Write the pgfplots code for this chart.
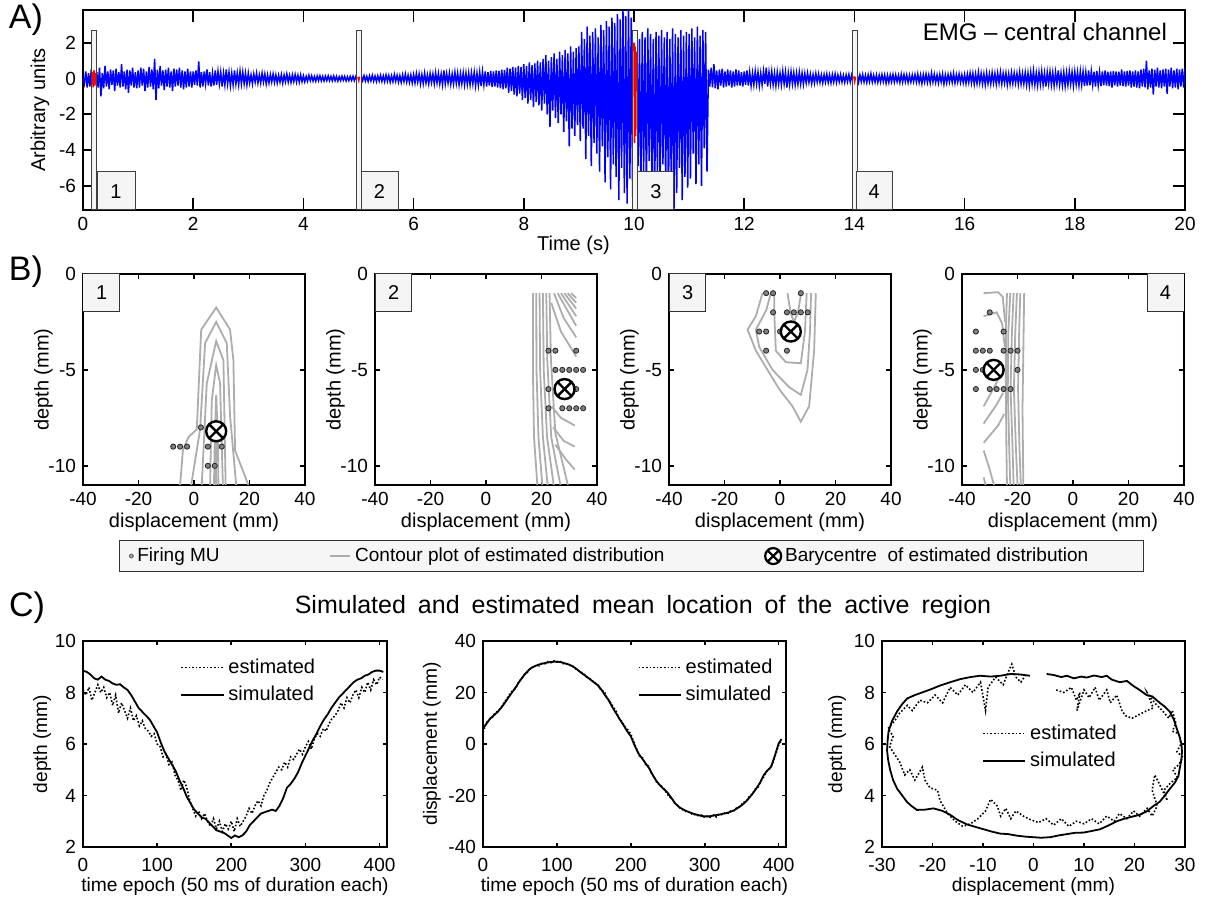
\documentclass[border=0pt]{standalone}
\usepackage{pgfplots}
\pgfplotsset{compat=1.18}
\usepackage{fontspec}
\setmainfont{Liberation Sans}
\usetikzlibrary{plotmarks}

\pgfplotsset{
  matlab/.style={
    scale only axis, anchor=south west,
    axis line style={line width=0.9pt},
    tick align=inside,
    every tick/.style={black, line width=0.8pt},
    /pgf/number format/assume math mode=true,
    tick label style={font=\fontsize{9.5}{11}\selectfont},
    label style={font=\fontsize{10}{12}\selectfont},
  },
  bpanel/.style={matlab, width=111pt, height=105.5pt,
    xmin=-40, xmax=40, ymin=-11, ymax=0,
    xtick={-40,-20,0,20,40}, ytick={-10,-5,0},
    major tick length=2.5pt,
    xlabel={displacement (mm)}, ylabel={depth (mm)},
    xlabel style={yshift=3pt}, ylabel style={yshift=-9pt}},
  cpanel/.style={matlab, height=103pt, major tick length=2pt,
    label style={font=\fontsize{9.6}{12}\selectfont},
    xticklabel style={yshift=-2pt},
    xlabel style={yshift=4pt}, ylabel style={yshift=-3pt},
    legend cell align=left,
    legend image code/.code={\draw[##1] (0pt,0pt) -- (21pt,0pt);},
    legend style={draw=none, fill=none, font=\fontsize{10}{12}\selectfont, row sep=1pt}},
  shortline/.style={legend image code/.code={\draw[##1] (0pt,0pt) -- (10pt,0pt);}},
  cont/.style={color=black!32, line width=0.9pt, forget plot},
  mu/.style={only marks, mark=*, mark size=1.3pt, mark options={fill=black!50, draw=black!85, line width=0.4pt}, forget plot},
  bary/.style={only marks, mark=otimes*, mark size=5pt, mark options={fill=white, draw=black, line width=1.2pt}, forget plot},
  est/.style={black, densely dotted, line width=0.8pt},
  sim/.style={black, solid, line width=0.9pt},
}

\begin{document}
\begin{tikzpicture}
\path[use as bounding box] (0,0) rectangle (602.5pt,452pt);

% ---------------- Panel A ----------------
\begin{axis}[matlab, at={(41.5pt,347pt)}, width=551pt, height=100pt,
  xmin=0, xmax=20, ymin=-7.35, ymax=3.83,
  xtick={0,2,...,20}, ytick={-6,-4,-2,0,2},
  major tick length=6pt,
  xlabel={Time (s)}, ylabel={Arbitrary units},
  xlabel style={at={(axis description cs:0.445,0)}, anchor=north, yshift=-9.5pt}, ylabel style={yshift=-2pt}]
\addplot[blue, line width=0.75pt] table[row sep=\\, x expr=\coordindex*0.025, y=y] {
y\\
0.0\\ -0.3\\ 0.4\\ -0.5\\ 0.3\\ -0.45\\ 0.5\\ -0.35\\ 0.45\\ -0.6\\ 0.35\\ -0.5\\ 0.6\\ -1.0\\ 0.3\\ -0.55\\ 0.7\\ -0.45\\ 0.4\\ -0.6\\ 0.5\\ -0.35\\ 0.45\\ -0.7\\ 0.55\\ -0.4\\ 0.35\\ -0.5\\ 0.8\\ -0.45\\ 0.4\\ -0.6\\ 0.5\\ -0.8\\ 0.45\\ -0.4\\ 0.6\\ -0.5\\ 0.35\\ -0.55\\
0.45\\ -0.5\\ 0.6\\ -0.4\\ 0.55\\ -0.7\\ 0.4\\ -0.5\\ 0.65\\ -0.45\\ 0.5\\ -0.6\\ 1.1\\ -1.2\\ 0.5\\ -0.55\\ 0.7\\ -0.4\\ 0.45\\ -0.65\\ 0.5\\ -0.45\\ 0.6\\ -0.5\\ 0.4\\ -0.7\\ 0.55\\ -0.45\\ 0.5\\ -0.4\\ 0.6\\ -0.5\\ 0.45\\ -0.6\\ 0.4\\ -0.5\\ 0.55\\ -0.45\\ 0.4\\ -0.5\\
0.4\\ -0.35\\ 0.45\\ -0.4\\ 0.95\\ -0.5\\ 0.35\\ -0.45\\ 0.4\\ -0.3\\ 0.5\\ -0.4\\ 0.35\\ -0.45\\ 0.3\\ -0.4\\ 0.45\\ -0.35\\ 0.4\\ -0.3\\ 0.35\\ -0.45\\ 0.3\\ -0.35\\ 0.5\\ -0.3\\ 0.35\\ -0.4\\ 0.3\\ -0.35\\ 0.45\\ -0.3\\ 0.3\\ -0.35\\ 0.4\\ -0.3\\ 0.35\\ -0.3\\ 0.3\\ -0.35\\
0.3\\ -0.25\\ 0.2\\ -0.3\\ 0.25\\ -0.2\\ 0.3\\ -0.25\\ 0.2\\ -0.25\\ 0.3\\ -0.2\\ 0.25\\ -0.3\\ 0.2\\ -0.25\\ 0.22\\ -0.2\\ 0.25\\ -0.22\\ 0.2\\ -0.25\\ 0.18\\ -0.2\\ 0.22\\ -0.25\\ 0.2\\ -0.18\\ 0.25\\ -0.2\\ 0.18\\ -0.22\\ 0.2\\ -0.18\\ 0.22\\ -0.2\\ 0.18\\ -0.2\\ 0.2\\ -0.18\\
0.15\\ -0.18\\ 0.12\\ -0.15\\ 0.18\\ -0.12\\ 0.15\\ -0.14\\ 0.12\\ -0.15\\ 0.14\\ -0.12\\ 0.15\\ -0.13\\ 0.12\\ -0.14\\ 0.13\\ -0.12\\ 0.15\\ -0.12\\ 0.12\\ -0.13\\ 0.14\\ -0.12\\ 0.12\\ -0.14\\ 0.1\\ -0.12\\ 0.13\\ -0.1\\ 0.12\\ -0.13\\ 0.1\\ -0.12\\ 0.12\\ -0.1\\ 0.13\\ -0.12\\ 0.1\\ -0.12\\
0.12\\ -0.15\\ 0.14\\ -0.12\\ 0.16\\ -0.14\\ 0.12\\ -0.16\\ 0.15\\ -0.13\\ 0.18\\ -0.15\\ 0.14\\ -0.17\\ 0.15\\ -0.14\\ 0.18\\ -0.16\\ 0.15\\ -0.18\\ 0.2\\ -0.15\\ 0.17\\ -0.2\\ 0.15\\ -0.18\\ 0.22\\ -0.16\\ 0.18\\ -0.2\\ 0.16\\ -0.22\\ 0.2\\ -0.18\\ 0.25\\ -0.2\\ 0.18\\ -0.22\\ 0.2\\ -0.25\\
0.22\\ -0.25\\ 0.28\\ -0.2\\ 0.25\\ -0.3\\ 0.22\\ -0.28\\ 0.3\\ -0.25\\ 0.2\\ -0.3\\ 0.28\\ -0.22\\ 0.25\\ -0.3\\ 0.32\\ -0.25\\ 0.28\\ -0.3\\ 0.25\\ -0.35\\ 0.45\\ -0.3\\ 0.28\\ -0.25\\ 0.3\\ -0.32\\ 0.25\\ -0.3\\ 0.35\\ -0.28\\ 0.3\\ -0.35\\ 0.28\\ -0.3\\ 0.32\\ -0.35\\ 0.3\\ -0.32\\
0.3\\ -0.35\\ 0.32\\ -0.3\\ 0.35\\ -0.4\\ 0.3\\ -0.38\\ 0.35\\ -0.42\\ 0.38\\ -0.35\\ 0.4\\ -0.45\\ 0.35\\ -0.4\\ 0.42\\ -0.48\\ 0.4\\ -0.45\\ 0.45\\ -0.5\\ 0.42\\ -0.55\\ 0.5\\ -0.6\\ 0.48\\ -0.55\\ 0.6\\ -0.8\\ 0.55\\ -0.7\\ 0.65\\ -0.9\\ 0.6\\ -1.0\\ 0.7\\ -0.85\\ 0.65\\ -1.2\\
0.8\\ -1.1\\ 0.7\\ -1.4\\ 0.9\\ -1.2\\ 0.75\\ -1.6\\ 0.85\\ -1.3\\ 1.0\\ -1.5\\ 0.9\\ -1.8\\ 1.1\\ -1.4\\ 1.3\\ -2.0\\ 1.0\\ -2.7\\ 1.2\\ -1.8\\ 1.4\\ -2.2\\ 1.1\\ -2.5\\ 1.5\\ -2.0\\ 1.3\\ -3.0\\ 1.6\\ -2.4\\ 1.4\\ -3.8\\ 1.8\\ -2.8\\ 1.5\\ -3.2\\ 1.7\\ -2.6\\
1.8\\ -3.5\\ 2.6\\ -2.8\\ 2.2\\ -4.5\\ 2.9\\ -3.2\\ 2.4\\ -4.9\\ 2.6\\ -3.6\\ 2.8\\ -4.2\\ 2.3\\ -5.2\\ 3.0\\ -3.8\\ 2.7\\ -5.8\\ 3.2\\ -4.4\\ 2.9\\ -6.2\\ 3.4\\ -4.8\\ 3.1\\ -5.5\\ 3.6\\ -6.8\\ 3.3\\ -5.0\\ 3.8\\ -6.4\\ 3.5\\ -7.0\\ 4.1\\ -5.6\\ 3.4\\ -6.6\\
2.4\\ -5.8\\ 2.7\\ -4.9\\ 2.2\\ -6.2\\ 2.6\\ -5.2\\ 2.3\\ -6.6\\ 2.8\\ -4.6\\ 2.5\\ -5.9\\ 2.2\\ -6.9\\ 2.6\\ -5.4\\ 2.4\\ -6.3\\ 2.7\\ -4.8\\ 2.3\\ -6.0\\ 2.6\\ -7.0\\ 2.2\\ -5.6\\ 2.8\\ -7.6\\ 2.5\\ -6.4\\ 2.3\\ -5.0\\ 2.7\\ -6.8\\ 2.4\\ -5.5\\ 2.6\\ -6.1\\
2.5\\ -5.6\\ 2.8\\ -4.2\\ 2.3\\ -5.9\\ 2.9\\ -4.8\\ 2.4\\ -6.0\\ 2.7\\ -3.9\\ 2.6\\ -5.2\\ 0.5\\ -0.45\\ 0.6\\ -0.5\\ 0.8\\ -0.55\\ 0.45\\ -0.6\\ 0.5\\ -0.4\\ 0.55\\ -0.5\\ 0.4\\ -0.45\\ 0.5\\ -0.4\\ 0.45\\ -0.5\\ 0.4\\ -0.45\\ 0.5\\ -0.4\\ 0.45\\ -0.4\\ 0.35\\ -0.45\\ 0.4\\ -0.35\\ 0.45\\ -0.4\\
0.35\\ -0.4\\ 0.3\\ -0.35\\ 0.4\\ -0.3\\ 0.35\\ -0.4\\ 0.3\\ -0.35\\ 0.4\\ -0.3\\ 0.6\\ -0.45\\ 0.35\\ -0.3\\ 0.4\\ -0.35\\ 0.3\\ -0.4\\ 0.35\\ -0.3\\ 0.3\\ -0.35\\ 0.4\\ -0.3\\ 0.35\\ -0.5\\ 0.3\\ -0.35\\ 0.38\\ -0.3\\ 0.32\\ -0.35\\ 0.3\\ -0.32\\ 0.35\\ -0.3\\ 0.3\\ -0.32\\
0.28\\ -0.25\\ 0.3\\ -0.22\\ 0.25\\ -0.28\\ 0.22\\ -0.25\\ 0.28\\ -0.2\\ 0.25\\ -0.22\\ 0.2\\ -0.25\\ 0.22\\ -0.2\\ 0.25\\ -0.22\\ 0.2\\ -0.24\\ 0.22\\ -0.2\\ 0.25\\ -0.22\\ 0.2\\ -0.18\\ 0.22\\ -0.2\\ 0.18\\ -0.22\\ 0.2\\ -0.18\\ 0.22\\ -0.2\\ 0.18\\ -0.2\\ 0.2\\ -0.18\\ 0.22\\ -0.2\\
0.2\\ -0.18\\ 0.22\\ -0.2\\ 0.18\\ -0.22\\ 0.2\\ -0.18\\ 0.26\\ -0.2\\ 0.18\\ -0.2\\ 0.2\\ -0.22\\ 0.18\\ -0.2\\ 0.22\\ -0.18\\ 0.2\\ -0.26\\ 0.18\\ -0.22\\ 0.2\\ -0.18\\ 0.22\\ -0.2\\ 0.2\\ -0.18\\ 0.18\\ -0.22\\ 0.24\\ -0.2\\ 0.22\\ -0.18\\ 0.2\\ -0.22\\ 0.18\\ -0.2\\ 0.2\\ -0.18\\
0.22\\ -0.2\\ 0.25\\ -0.22\\ 0.2\\ -0.28\\ 0.22\\ -0.2\\ 0.25\\ -0.22\\ 0.2\\ -0.24\\ 0.3\\ -0.2\\ 0.24\\ -0.22\\ 0.2\\ -0.25\\ 0.22\\ -0.2\\ 0.25\\ -0.3\\ 0.2\\ -0.24\\ 0.22\\ -0.2\\ 0.24\\ -0.22\\ 0.28\\ -0.25\\ 0.22\\ -0.2\\ 0.25\\ -0.22\\ 0.2\\ -0.24\\ 0.22\\ -0.28\\ 0.24\\ -0.22\\
0.3\\ -0.25\\ 0.28\\ -0.32\\ 0.25\\ -0.28\\ 0.35\\ -0.25\\ 0.28\\ -0.3\\ 0.25\\ -0.35\\ 0.3\\ -0.28\\ 0.25\\ -0.3\\ 0.32\\ -0.25\\ 0.28\\ -0.32\\ 0.3\\ -0.25\\ 0.35\\ -0.3\\ 0.28\\ -0.25\\ 0.3\\ -0.35\\ 0.25\\ -0.3\\ 0.32\\ -0.28\\ 0.3\\ -0.25\\ 0.28\\ -0.32\\ 0.35\\ -0.3\\ 0.28\\ -0.3\\
0.32\\ -0.35\\ 0.3\\ -0.4\\ 0.35\\ -0.3\\ 0.42\\ -0.35\\ 0.3\\ -0.38\\ 0.35\\ -0.32\\ 0.4\\ -0.35\\ 0.3\\ -0.45\\ 0.35\\ -0.3\\ 0.38\\ -0.35\\ 0.32\\ -0.4\\ 0.35\\ -0.3\\ 0.45\\ -0.35\\ 0.3\\ -0.38\\ 0.35\\ -0.42\\ 0.32\\ -0.35\\ 0.4\\ -0.3\\ 0.35\\ -0.4\\ 0.38\\ -0.32\\ 0.35\\ -0.38\\
0.4\\ -0.35\\ 0.38\\ -0.42\\ 0.35\\ -0.4\\ 0.45\\ -0.38\\ 0.4\\ -0.35\\ 0.38\\ -0.45\\ 0.42\\ -0.38\\ 0.35\\ -0.42\\ 0.4\\ -0.38\\ 0.45\\ -0.4\\ 0.38\\ -0.42\\ 0.4\\ -0.5\\ 0.42\\ -0.38\\ 0.4\\ -0.45\\ 0.38\\ -0.4\\ 0.5\\ -0.42\\ 0.4\\ -0.45\\ 0.42\\ -0.4\\ 0.45\\ -0.5\\ 0.4\\ -0.45\\
0.45\\ -0.5\\ 0.4\\ -0.55\\ 0.5\\ -0.45\\ 0.55\\ -0.5\\ 1.0\\ -0.6\\ 0.45\\ -0.5\\ 0.55\\ -0.9\\ 0.5\\ -0.45\\ 0.6\\ -0.5\\ 0.45\\ -0.55\\ 0.5\\ -0.45\\ 0.55\\ -0.85\\ 0.5\\ -0.45\\ 0.6\\ -0.55\\ 0.45\\ -0.5\\ 0.55\\ -0.6\\ 0.5\\ -0.45\\ 0.55\\ -0.5\\ 0.6\\ -0.55\\ 0.5\\ -0.6\\
1.0\\
};
% analysis windows
\draw[fill=gray!8, draw=black!75, line width=0.5pt] (axis cs:0.16,-7.35) rectangle (axis cs:0.25,2.7);
\draw[fill=gray!8, draw=black!75, line width=0.5pt] (axis cs:4.96,-7.35) rectangle (axis cs:5.05,2.7);
\draw[fill=gray!8, draw=black!75, line width=0.5pt] (axis cs:9.97,-7.35) rectangle (axis cs:10.06,2.7);
\draw[fill=gray!8, draw=black!75, line width=0.5pt] (axis cs:13.96,-7.35) rectangle (axis cs:14.05,2.7);
\addplot[red, line width=0.8pt] coordinates {(0.17,0.35)(0.185,-0.5)(0.2,0.45)(0.215,-0.4)(0.23,0.3)};
\addplot[red, line width=0.8pt] coordinates {(4.99,0.08)(5.005,-0.1)(5.02,0.1)};
\addplot[red, line width=0.8pt] coordinates {(10.0,2.0)(10.01,-3.6)(10.02,1.8)(10.03,-3.2)(10.04,1.5)};
\addplot[red, line width=0.8pt] coordinates {(13.99,0.12)(14.005,-0.15)(14.02,0.1)};
\draw[fill=gray!8, draw=black!75, line width=0.5pt] (axis cs:0.27,-7.35) rectangle (axis cs:0.96,-5.2);
\draw[fill=gray!8, draw=black!75, line width=0.5pt] (axis cs:5.05,-7.35) rectangle (axis cs:5.72,-5.2);
\draw[fill=gray!8, draw=black!75, line width=0.5pt] (axis cs:10.07,-7.35) rectangle (axis cs:10.72,-5.2);
\draw[fill=gray!8, draw=black!75, line width=0.5pt] (axis cs:14.03,-7.35) rectangle (axis cs:14.7,-5.2);
\node[font=\fontsize{10}{12}\selectfont] at (axis cs:0.6,-6.3) {1};
\node[font=\fontsize{10}{12}\selectfont] at (axis cs:5.38,-6.3) {2};
\node[font=\fontsize{10}{12}\selectfont] at (axis cs:10.4,-6.3) {3};
\node[font=\fontsize{10}{12}\selectfont] at (axis cs:14.36,-6.3) {4};
\node[anchor=east, font=\fontsize{12}{14}\selectfont] at (rel axis cs:0.99,0.89) {EMG -- central channel};
\end{axis}

% ---------------- Panel B1 ----------------
\begin{axis}[bpanel, at={(41.5pt,209.5pt)},
  legend columns=3,
  legend style={at={(0.162,-0.262)}, anchor=north west, draw=black!80, fill=gray!7,
    font=\fontsize{9.5}{11}\selectfont, inner xsep=5pt, inner ysep=1.5pt}]
\addlegendimage{only marks, mark=*, mark size=1pt, mark options={fill=black!40, draw=black!60}}
\addlegendentry{\makebox[94pt][l]{Firing MU}}
\addlegendimage{black!32, line width=0.9pt, shortline}
\addlegendentry{\makebox[203pt][l]{Contour plot of estimated distribution}}
\addlegendimage{only marks, mark=otimes*, mark size=4pt, mark options={fill=white, draw=black, line width=1.1pt}}
\addlegendentry{\makebox[172pt][l]{Barycentre\ \ of estimated distribution}}
\addplot[cont] coordinates {(-5,-11)(-4,-9.2)(-2,-8.5)(1,-8.1)(2.6,-2.9)(8,-1.75)(13,-2.9)(14.2,-4.5)(14.8,-9.2)(19.6,-11)};
\addplot[cont] coordinates {(-1,-11)(2.2,-8.1)(4,-3.6)(8,-2.5)(11.8,-3.6)(13,-7.4)(15.2,-11)};
\addplot[cont] coordinates {(2.8,-11)(4.6,-5.7)(8,-3.5)(10.6,-4.5)(11.4,-11)};
\addplot[cont] coordinates {(5.8,-11)(6.4,-6.6)(8,-4.75)(9.4,-5.7)(10.4,-11)};
\addplot[cont] coordinates {(7.2,-11)(7.5,-8.5)(8,-6.3)(8.6,-8.5)(8.8,-11)};
\addplot[cont] coordinates {(8,-11)(8,-6.8)};
\addplot[mu] coordinates {(-7.5,-9)(-5,-9)(-2.5,-9)(2.5,-8)(5,-9)(10,-9)(5,-10)(7.5,-10)(7.5,-8)};
\addplot[bary] coordinates {(8,-8.2)};
\draw[fill=gray!8, draw=black!80, line width=0.5pt] (axis cs:-40,0) rectangle (axis cs:-26.7,-1.95);
\node[font=\fontsize{10}{12}\selectfont] at (axis cs:-33.3,-0.97) {1};
\end{axis}

% ---------------- Panel B2 ----------------
\begin{axis}[bpanel, at={(187.5pt,209.5pt)}]
\addplot[cont] coordinates {(16.9,-1)(16.9,-5)(17.3,-8.5)(18.5,-11)};
\addplot[cont] coordinates {(18.1,-1)(18.2,-5)(18.9,-8.5)(20.3,-11)};
\addplot[cont] coordinates {(19.3,-1)(19.5,-5)(20.5,-8.5)(22.2,-11)};
\addplot[cont] coordinates {(20.5,-1)(20.8,-5)(22,-8.5)(24.4,-11)};
\addplot[cont] coordinates {(21.7,-1)(22.1,-4.5)(23.5,-8.5)(26.8,-11)};
\addplot[cont] coordinates {(22.9,-1)(23.4,-4.5)(25,-8.3)(29.5,-11)};
\addplot[cont] coordinates {(23.5,-1.5)(27,-3.0)(32.5,-4.3)};
\addplot[cont] coordinates {(24.5,-1)(28,-2.3)(32.5,-3.3)};
\addplot[cont] coordinates {(25.8,-1)(32.5,-2.7)};
\addplot[cont] coordinates {(27,-1)(32.5,-2.2)};
\addplot[cont] coordinates {(28.2,-1)(32.5,-1.8)};
\addplot[cont] coordinates {(29.4,-1)(32.5,-1.5)};
\addplot[cont] coordinates {(30.6,-1)(32.5,-1.25)};
\addplot[cont] coordinates {(23.6,-6.9)(27,-7.5)(32,-7.9)};
\addplot[cont] coordinates {(24.2,-8.0)(28,-8.7)(32,-9.0)};
\addplot[cont] coordinates {(25,-8.9)(29,-9.7)(32,-10.2)};
\addplot[mu] coordinates {(22.5,-4)(25,-4)(32.5,-4)(25,-5)(27.5,-5)(30,-5)(32.5,-5)(35,-5)(22.5,-6)(32.5,-6)(22.5,-7)(27.5,-7)(30,-7)(32.5,-7)(35,-7)};
\addplot[bary] coordinates {(28.3,-6)};
\draw[fill=gray!8, draw=black!80, line width=0.5pt] (axis cs:-40,0) rectangle (axis cs:-26.7,-1.95);
\node[font=\fontsize{10}{12}\selectfont] at (axis cs:-33.3,-0.97) {2};
\end{axis}

% ---------------- Panel B3 ----------------
\begin{axis}[bpanel, at={(334.5pt,209.5pt)}]
\addplot[cont] coordinates {(-6.3,-1.0)(-8.7,-2.2)(-11.7,-2.9)(-8.7,-4.0)(-0.3,-6.0)(4.5,-6.9)(7.5,-7.7)(10.5,-6.9)(12.3,-4.0)(12.9,-1.0)};
\addplot[cont] coordinates {(-3.3,-1.0)(-5,-1.9)(-8.7,-2.9)(-7.5,-3.8)(-2.7,-5.0)(3.3,-5.9)(7.5,-6.3)(9.9,-5.0)(10.8,-3.0)(11.2,-1.0)};
\addplot[cont] coordinates {(-2.1,-1.0)(-2.1,-1.9)(-1.5,-4.0)(2.1,-4.6)(7.5,-4.65)(9.0,-3.0)(9.6,-1.0)};
\addplot[cont] coordinates {(2.7,-1.0)(3.8,-2.0)(5.0,-2.5)(6.5,-2.0)(7.6,-1.0)};
\addplot[mu] coordinates {(-5,-1)(-2.5,-1)(7.5,-1)(-2.5,-2)(2.5,-2)(5,-2)(7.5,-2)(10,-2)(-7.5,-3)(-5,-3)(0,-3)(2.5,-3)(-5,-4)(2.5,-4)};
\addplot[bary] coordinates {(3.9,-3.0)};
\draw[fill=gray!8, draw=black!80, line width=0.5pt] (axis cs:-40,0) rectangle (axis cs:-26.7,-1.95);
\node[font=\fontsize{10}{12}\selectfont] at (axis cs:-33.3,-0.97) {3};
\end{axis}

% ---------------- Panel B4 ----------------
\begin{axis}[bpanel, at={(481pt,209.5pt)}]
\addplot[cont] coordinates {(-23.8,-1)(-24.2,-3)(-24.2,-6)(-24,-9)(-23.8,-11)};
\addplot[cont] coordinates {(-22.6,-1)(-23.3,-3)(-23.5,-6)(-23,-9)(-22.6,-11)};
\addplot[cont] coordinates {(-21.4,-1)(-22,-3)(-22.5,-6)(-21.8,-9)(-21.4,-11)};
\addplot[cont] coordinates {(-20.2,-1)(-20.8,-3)(-21.3,-6)(-20.6,-9)(-20.0,-11)};
\addplot[cont] coordinates {(-19.0,-1)(-19.4,-3)(-19.8,-6)(-19.3,-9)(-18.8,-11)};
\addplot[cont] coordinates {(-17.6,-1)(-17.9,-4)(-18.2,-7)(-17.9,-11)};
\addplot[cont] coordinates {(-32.2,-1.0)(-27,-0.95)(-25.3,-1.2)(-24.5,-2.5)};
\addplot[cont] coordinates {(-32.2,-2.2)(-27.5,-2.0)(-25.5,-2.6)(-24.6,-3.8)};
\addplot[cont] coordinates {(-32.2,-6.9)(-28,-5.8)(-25.5,-5.0)};
\addplot[cont] coordinates {(-32.2,-7.8)(-27.5,-6.8)(-25.2,-6.2)};
\addplot[cont] coordinates {(-32.2,-8.8)(-27,-7.9)(-24.8,-7.3)};
\addplot[cont] coordinates {(-32.2,-9.2)(-30,-10.2)(-28.5,-11)};
\addplot[cont] coordinates {(-32.2,-10.6)(-31.5,-11)};
\addplot[mu] coordinates {(-30,-2)(-35,-3)(-25,-3)(-35,-4)(-32.5,-4)(-30,-4)(-25,-4)(-22.5,-4)(-20,-4)(-35,-5)(-32.5,-5)(-30,-5)(-20,-5)(-35,-6)(-30,-6)(-27.5,-6)(-25,-6)(-22.5,-6)};
\addplot[bary] coordinates {(-28.6,-5.0)};
\draw[fill=gray!8, draw=black!80, line width=0.5pt] (axis cs:26.7,0) rectangle (axis cs:40,-1.95);
\node[font=\fontsize{10}{12}\selectfont] at (axis cs:33.3,-0.97) {4};
\end{axis}

% ---------------- Panel C1 ----------------
\begin{axis}[cpanel, at={(41.5pt,28.5pt)}, width=152pt,
  xmin=0, xmax=410, ymin=2, ymax=10,
  xtick={0,100,200,300,400}, ytick={2,4,6,8,10},
  xlabel={time epoch (50 ms of duration each)}, ylabel={depth (mm)},
  ylabel style={yshift=-2pt},
  legend style={at={(0.30,0.955)}, anchor=north west}]
\addplot[est] coordinates {(0,8.1)(4,7.9)(8,8.2)(12,7.7)(16,8.0)(20,8.3)(24,8.0)(28,8.2)(32,7.8)(36,8.0)(40,7.5)(44,7.9)(48,7.2)(52,7.6)(56,7.3)(60,7.0)(64,7.4)(68,6.9)(72,7.1)(76,6.7)(80,6.9)(84,6.6)(88,6.5)(92,6.3)(96,6.4)(100,6.0)(104,5.9)(108,5.5)(112,5.6)(116,5.2)(120,5.3)(124,4.8)(128,4.6)(132,4.2)(136,4.6)(140,4.3)(144,3.8)(148,3.5)(152,3.2)(156,3.4)(160,3.1)(164,3.3)(168,3.0)(172,2.8)(176,3.1)(180,2.7)(184,3.0)(188,2.6)(192,2.9)(196,2.7)(200,3.0)(204,2.6)(208,3.1)(212,2.8)(216,3.0)(220,3.2)(224,3.5)(228,3.3)(232,3.6)(236,3.8)(240,3.6)(244,4.0)(248,4.2)(252,4.5)(256,4.7)(260,4.9)(264,5.1)(268,5.0)(272,5.3)(276,5.1)(280,5.5)(284,5.4)(288,5.6)(292,5.8)(296,5.6)(300,5.9)(304,6.1)(308,5.8)(312,6.2)(316,6.4)(320,6.3)(324,6.6)(328,6.5)(332,6.8)(336,7.0)(340,7.1)(344,7.3)(348,7.6)(352,7.4)(356,7.8)(360,7.6)(364,7.9)(368,8.1)(372,7.8)(376,8.2)(380,8.0)(384,8.4)(388,8.1)(392,8.5)(396,8.3)(400,8.6)(404,8.5)};
\addlegendentry{estimated}
\addplot[sim] coordinates {(0,8.85)(5,8.8)(10,8.7)(15,8.55)(20,8.5)(25,8.62)(30,8.5)(35,8.45)(40,8.35)(45,8.3)(50,8.32)(55,8.2)(60,8.1)(65,7.9)(70,7.65)(75,7.4)(80,7.25)(85,7.1)(90,6.95)(95,6.7)(100,6.45)(105,6.05)(110,5.7)(115,5.45)(120,5.2)(125,4.95)(130,4.6)(135,4.3)(140,3.95)(145,3.7)(150,3.45)(155,3.3)(160,3.15)(165,3.1)(170,2.95)(175,2.8)(180,2.65)(185,2.6)(190,2.55)(195,2.45)(200,2.35)(205,2.45)(210,2.38)(215,2.45)(220,2.6)(225,2.85)(230,3.0)(235,3.15)(240,3.3)(245,3.35)(250,3.4)(255,3.45)(260,3.4)(265,3.6)(270,3.9)(275,4.3)(280,4.45)(285,4.65)(290,4.9)(295,5.25)(300,5.55)(305,5.85)(310,6.15)(315,6.4)(320,6.7)(325,6.95)(330,7.15)(335,7.4)(340,7.6)(345,7.8)(350,7.95)(355,8.1)(360,8.25)(365,8.4)(370,8.5)(375,8.55)(380,8.65)(385,8.7)(390,8.8)(395,8.85)(400,8.85)(405,8.8)};
\addlegendentry{simulated}
\end{axis}

% ---------------- Panel C2 ----------------
\begin{axis}[cpanel, at={(241.5pt,28.5pt)}, width=151.5pt,
  xmin=0, xmax=410, ymin=-40, ymax=40,
  xtick={0,100,200,300,400}, ytick={-40,-20,0,20,40},
  xlabel={time epoch (50 ms of duration each)}, ylabel={displacement (mm)},
  legend style={at={(0.49,0.955)}, anchor=north west}]
\addplot[est] coordinates {(0,4.5)(4,8.0)(8,9.5)(12,10.0)(16,12.0)(20,12.8)(24,14.0)(28,15.8)(32,17.5)(36,19.2)(40,20.8)(44,21.5)(48,24.0)(52,25.2)(56,27.0)(60,27.8)(64,29.5)(68,29.8)(72,30.6)(76,30.4)(80,31.5)(84,31.2)(88,32.0)(92,31.6)(96,32.3)(100,31.8)(104,32.2)(108,31.2)(112,31.3)(116,30.5)(120,30.6)(124,29.4)(128,28.8)(132,27.9)(136,27.5)(140,26.0)(144,25.6)(148,24.5)(152,23.6)(156,22.8)(160,20.8)(164,20.5)(168,17.8)(172,16.4)(176,14.5)(180,12.8)(184,10.0)(188,8.6)(192,6.8)(196,5.5)(200,3.8)(204,0.8)(208,-2.0)(212,-4.8)(216,-5.4)(220,-8.0)(224,-8.6)(228,-11.5)(232,-13.0)(236,-15.5)(240,-15.8)(244,-17.2)(248,-18.8)(252,-20.5)(256,-21.3)(260,-23.4)(264,-24.0)(268,-25.4)(272,-25.6)(276,-26.6)(280,-26.4)(284,-27.6)(288,-27.3)(292,-28.0)(296,-27.6)(300,-28.6)(304,-27.9)(308,-28.5)(312,-27.6)(316,-28.4)(320,-27.2)(324,-27.5)(328,-26.6)(332,-26.9)(336,-25.8)(340,-25.9)(344,-24.5)(348,-24.3)(352,-22.6)(356,-22.4)(360,-20.5)(364,-19.6)(368,-17.6)(372,-16.9)(376,-14.3)(380,-12.8)(384,-10.5)(388,-9.6)(392,-7.5)(396,-4.0)(400,-0.5)(404,1.5)};
\addlegendentry{estimated}
\addplot[sim] coordinates {(0,6.0)(5,8.0)(10,10.0)(15,11.2)(20,12.5)(25,14.2)(30,16.2)(35,18.3)(40,20.3)(45,22.3)(50,24.6)(55,26.5)(60,28.2)(65,29.5)(70,30.2)(75,30.8)(80,31.2)(85,31.5)(90,31.8)(95,31.9)(100,32.0)(105,31.8)(110,31.4)(115,31.0)(120,30.4)(125,29.5)(130,28.3)(135,27.2)(140,26.2)(145,25.1)(150,24.0)(155,22.9)(160,21.2)(165,19.0)(170,17.0)(175,14.3)(180,12.0)(185,9.6)(190,7.4)(195,5.0)(200,3.0)(205,-0.5)(210,-3.5)(215,-5.5)(220,-7.5)(225,-9.5)(230,-12.2)(235,-14.5)(240,-16.2)(245,-17.6)(250,-19.0)(255,-21.0)(260,-23.0)(265,-24.4)(270,-25.3)(275,-26.0)(280,-26.6)(285,-27.1)(290,-27.5)(295,-27.9)(300,-28.1)(305,-28.1)(310,-27.9)(315,-27.6)(320,-27.4)(325,-27.1)(330,-26.8)(335,-26.3)(340,-25.7)(345,-24.8)(350,-23.8)(355,-22.6)(360,-21.0)(365,-19.2)(370,-17.2)(375,-15.0)(380,-12.0)(385,-10.2)(390,-8.8)(395,-4.5)(400,0.2)(404,1.9)};
\addlegendentry{simulated}
\end{axis}

% ---------------- Panel C3 ----------------
\begin{axis}[cpanel, at={(441pt,28.5pt)}, width=151.5pt,
  xmin=-30, xmax=30, ymin=2, ymax=10,
  xtick={-30,-20,...,30}, ytick={2,4,6,8,10},
  xlabel={displacement (mm)}, ylabel={depth (mm)},
  legend style={at={(0.31,0.635)}, anchor=north west}]
\addplot[est] coordinates {(4.5,8.1)(6,8.0)(7.5,8.2)(8.5,7.7)(9.2,8.0)(8.6,7.3)(10,8.1)(11,7.8)(12.2,8.2)(13,7.7)(14.5,8.1)(15.2,7.6)(16.5,7.9)(17.5,7.3)(18.2,7.1)(19.5,7.0)(21,7.15)(22.5,7.3)(23.7,7.4)(22.5,8.0)(24,7.6)(25.5,7.3)(26.8,7.0)(27.5,7.3)(28.2,6.8)(27.5,6.5)(28.8,6.4)(29.2,6.0)(28.4,5.7)(29.5,5.5)(28.8,5.2)(27.6,5.0)(28.5,4.7)(27.2,4.5)(25.8,4.2)(26.5,3.8)(24.8,4.5)(24,4.8)(23.5,4.2)(24.5,3.6)(23.5,3.2)(22.5,3.5)(21,3.2)(19.8,3.4)(18.5,3.1)(17,3.3)(16,3.0)(14.5,3.2)(13,2.9)(11.5,3.1)(10,2.9)(8.5,3.0)(7,2.8)(5.5,3.1)(4,2.85)(2.5,3.1)(1,2.95)(-0.5,3.05)(-2,3.2)(-3.5,3.4)(-4.5,3.1)(-5.5,3.5)(-6.5,3.2)(-7.2,3.6)(-8.5,3.85)(-9.5,3.4)(-11,3.1)(-12.5,2.9)(-14,2.8)(-15.5,3.0)(-17,3.3)(-18.5,3.8)(-19,4.2)(-20.5,4.3)(-21.5,4.6)(-22,5.1)(-23.5,4.6)(-24.5,5.0)(-25.5,4.8)(-26.5,5.3)(-27.5,5.6)(-28.5,5.9)(-27.8,6.3)(-28.8,6.6)(-27.5,6.9)(-26.5,7.2)(-25,7.5)(-24,7.3)(-22.5,7.7)(-21,7.6)(-19.5,7.9)(-18,7.6)(-16.5,8.2)(-15,7.9)(-13.5,8.3)(-12,8.0)(-10.5,8.4)(-9.5,7.3)(-9,8.2)(-7.5,8.6)(-6,8.3)(-5,8.8)(-4.3,9.1)(-3.5,8.6)(-2.5,8.4)(-1.5,8.7)};
\addlegendentry{estimated}
\addplot[sim] coordinates {(2.6,8.72)(4.0,8.68)(5.5,8.6)(6.6,8.65)(8.0,8.55)(9.5,8.62)(10.5,8.58)(12,8.66)(13.5,8.6)(14.5,8.65)(15.5,8.5)(17.1,8.4)(18.5,8.45)(19.8,8.25)(21,8.1)(22.4,7.9)(23.5,7.85)(25.0,7.6)(26,7.45)(27.0,7.25)(27.8,6.95)(28.3,6.64)(28.9,6.3)(29.3,6.0)(29.4,5.7)(29.3,5.4)(29.0,5.1)(28.7,4.76)(28.0,4.5)(27.0,4.26)(26.0,4.0)(25.0,3.76)(23.8,3.6)(22.4,3.38)(21,3.25)(19.8,3.19)(18,3.1)(16.5,3.0)(15,2.85)(13.2,2.69)(11.5,2.62)(9.9,2.56)(8.2,2.55)(6.6,2.5)(5,2.45)(3.3,2.38)(1.5,2.36)(0,2.38)(-1.5,2.4)(-3.3,2.44)(-5,2.5)(-6.6,2.52)(-8.3,2.6)(-9.9,2.69)(-11.5,2.78)(-13.2,2.88)(-15,3.05)(-16.5,3.25)(-18,3.4)(-19.8,3.5)(-21.5,3.45)(-23.1,3.44)(-24.2,3.6)(-25.1,3.76)(-26,4.0)(-27.0,4.26)(-27.8,4.6)(-28.4,5.0)(-28.8,5.4)(-29.0,5.76)(-28.9,6.1)(-28.7,6.5)(-28,6.9)(-27,7.27)(-26,7.55)(-25,7.77)(-23.5,7.9)(-21.8,8.02)(-20,8.15)(-18.5,8.27)(-16.5,8.4)(-14.5,8.52)(-12.5,8.6)(-10.6,8.65)(-8.5,8.62)(-6.6,8.65)(-4.5,8.72)(-2.6,8.7)(-0.7,8.65)};
\addlegendentry{simulated}
\end{axis}

% ---------------- panel letters and title ----------------
\node[font=\fontsize{17}{20}\selectfont] at (13pt,442pt) {A)};
\node[font=\fontsize{17}{20}\selectfont] at (13pt,316pt) {B)};
\node[font=\fontsize{17}{20}\selectfont] at (13.5pt,148pt) {C)};
\node[font=\fontsize{12.5}{15}\selectfont] at (321.5pt,148.5pt) {\spaceskip=6pt plus 1pt Simulated and estimated mean location of the active region};
\end{tikzpicture}
\end{document}
